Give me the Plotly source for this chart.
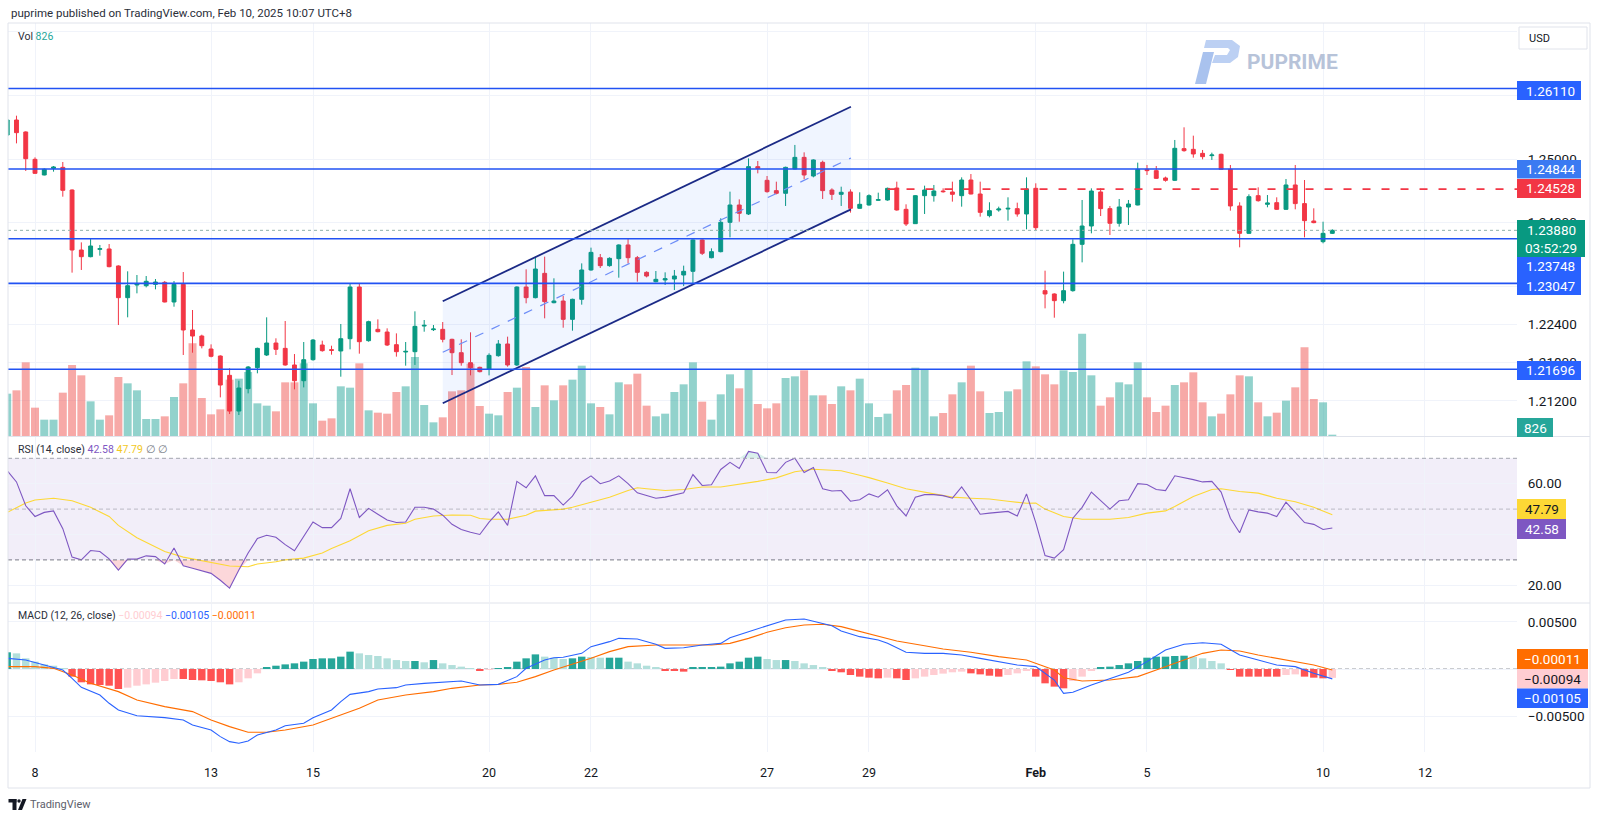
import plotly.graph_objects as go

# ---------------- data ----------------
open_ = [1.25378, 1.25614, 1.25426, 1.24996, 1.24750, 1.24854, 1.24870, 1.24514, 1.23571, 1.23466,
         1.23581, 1.23587, 1.23320, 1.22822, 1.23021, 1.23010, 1.23031, 1.23063, 1.22754, 1.23031,
         1.22314, 1.22219, 1.22015, 1.21905, 1.21601, 1.21040, 1.21392, 1.21722, 1.21921, 1.22109,
         1.22025, 1.21764, 1.21517, 1.21847, 1.22078, 1.22005, 1.21984, 1.22177, 1.22989, 1.22146,
         1.22324, 1.22282, 1.22083, 1.21968, 1.21973, 1.22376, 1.22319, 1.22324, 1.22167, 1.21957,
         1.21800, 1.21727, 1.21695, 1.21910, 1.22094, 1.21764, 1.22989, 1.22822, 1.23204, 1.22743,
         1.22769, 1.22481, 1.22796, 1.23257, 1.23450, 1.23325, 1.23435, 1.23650, 1.23450, 1.23220,
         1.23073, 1.23100, 1.23115, 1.23178, 1.23236, 1.23729, 1.23450, 1.23545, 1.24006, 1.24278,
         1.24137, 1.24881, 1.24666, 1.24504, 1.24462, 1.24844, 1.25027, 1.24734, 1.24949, 1.24514,
         1.24446, 1.24483, 1.24226, 1.24278, 1.24352, 1.24357, 1.24545, 1.24210, 1.23985, 1.24425,
         1.24425, 1.24498, 1.24483, 1.24425, 1.24671, 1.24451, 1.24111, 1.24200, 1.24215, 1.24221,
         1.24137, 1.24540, 1.22932, 1.22880, 1.22775, 1.22932, 1.23660, 1.23948, 1.24483, 1.24221,
         1.23991, 1.24247, 1.24278, 1.24839, 1.24818, 1.24703, 1.24666, 1.25164, 1.25153, 1.25090,
         1.25054, 1.25075, 1.24839, 1.24263, 1.23833, 1.24425, 1.24289, 1.24315, 1.24210, 1.24593,
         1.24300, 1.24027, 1.23702, 1.23833]
high = [1.25625, 1.25682, 1.25436, 1.25027, 1.24854, 1.24891, 1.24954, 1.24524, 1.23691, 1.23754,
        1.23650, 1.23665, 1.23330, 1.23236, 1.23178, 1.23162, 1.23115, 1.23084, 1.23084, 1.23225,
        1.22628, 1.22240, 1.22088, 1.21915, 1.21711, 1.21517, 1.21748, 1.22036, 1.22513, 1.22183,
        1.22455, 1.21936, 1.22125, 1.22172, 1.22146, 1.22067, 1.22408, 1.23047, 1.23052, 1.22460,
        1.22481, 1.22340, 1.22261, 1.22125, 1.22607, 1.22471, 1.22392, 1.22439, 1.22177, 1.22167,
        1.22277, 1.21737, 1.21947, 1.22156, 1.22209, 1.23000, 1.23267, 1.23466, 1.23466, 1.23126,
        1.22848, 1.22806, 1.23361, 1.23608, 1.23508, 1.23456, 1.23660, 1.23754, 1.23477, 1.23236,
        1.23241, 1.23220, 1.23257, 1.23325, 1.23739, 1.23739, 1.23597, 1.24069, 1.24488, 1.24367,
        1.25011, 1.24970, 1.24734, 1.24645, 1.24881, 1.25222, 1.25106, 1.24996, 1.24975, 1.24540,
        1.24566, 1.24524, 1.24478, 1.24446, 1.24472, 1.24551, 1.24645, 1.24289, 1.24435, 1.24582,
        1.24593, 1.24540, 1.24645, 1.24713, 1.24765, 1.24645, 1.24321, 1.24252, 1.24399, 1.24315,
        1.24713, 1.24619, 1.23246, 1.22890, 1.23231, 1.23739, 1.24357, 1.24540, 1.24540, 1.24263,
        1.24373, 1.24357, 1.24944, 1.24907, 1.24891, 1.24724, 1.25300, 1.25499, 1.25368, 1.25143,
        1.25101, 1.25085, 1.24907, 1.24321, 1.24446, 1.24556, 1.24435, 1.24399, 1.24687, 1.24907,
        1.24671, 1.24226, 1.24016, 1.23896]
low = [1.25368, 1.25247, 1.24813, 1.24765, 1.24744, 1.24802, 1.24409, 1.23215, 1.23257, 1.23456,
       1.23482, 1.23299, 1.22392, 1.22513, 1.22890, 1.22984, 1.22953, 1.22748, 1.22680, 1.21921,
       1.21957, 1.22025, 1.21884, 1.21255, 1.20993, 1.20978, 1.21318, 1.21633, 1.21905, 1.21921,
       1.21753, 1.21381, 1.21412, 1.21832, 1.21973, 1.21926, 1.21580, 1.22010, 1.21942, 1.22130,
       1.22277, 1.22062, 1.21895, 1.21753, 1.21764, 1.22287, 1.22298, 1.22120, 1.21606, 1.21753,
       1.21601, 1.21648, 1.21601, 1.21895, 1.21737, 1.21748, 1.22733, 1.22811, 1.22497, 1.22733,
       1.22350, 1.22303, 1.22712, 1.23246, 1.23288, 1.23309, 1.23136, 1.23361, 1.23073, 1.23141,
       1.23063, 1.23021, 1.22942, 1.23005, 1.23031, 1.23492, 1.23440, 1.23534, 1.23770, 1.24016,
       1.24121, 1.24776, 1.24472, 1.24446, 1.24263, 1.24839, 1.24682, 1.24713, 1.24373, 1.24357,
       1.24263, 1.24158, 1.24221, 1.24268, 1.24346, 1.24346, 1.24189, 1.23948, 1.23980, 1.24137,
       1.24331, 1.24472, 1.24331, 1.24252, 1.24446, 1.24095, 1.24084, 1.24173, 1.24032, 1.24095,
       1.23896, 1.23885, 1.22654, 1.22507, 1.22733, 1.22916, 1.23377, 1.23833, 1.24105, 1.23807,
       1.23938, 1.23964, 1.24273, 1.24750, 1.24687, 1.24645, 1.24655, 1.25116, 1.25022, 1.24996,
       1.24986, 1.24828, 1.24189, 1.23613, 1.23822, 1.24331, 1.24242, 1.24200, 1.24200, 1.24210,
       1.23770, 1.23991, 1.23676, 1.23822]
close = [1.25614, 1.25415, 1.25006, 1.24776, 1.24839, 1.24875, 1.24509, 1.23571, 1.23466, 1.23634,
         1.23592, 1.23309, 1.22822, 1.23010, 1.23037, 1.23079, 1.23068, 1.22754, 1.23031, 1.22314,
         1.22219, 1.22067, 1.21900, 1.21449, 1.21040, 1.21402, 1.21732, 1.22025, 1.22109, 1.22010,
         1.21764, 1.21517, 1.21847, 1.22156, 1.21989, 1.21994, 1.22177, 1.22989, 1.22130, 1.22445,
         1.22287, 1.22078, 1.21973, 1.21978, 1.22371, 1.22387, 1.22329, 1.22167, 1.21957, 1.21800,
         1.21722, 1.21659, 1.21915, 1.22094, 1.21764, 1.22989, 1.22822, 1.23272, 1.22759, 1.22769,
         1.22481, 1.22796, 1.23257, 1.23534, 1.23325, 1.23440, 1.23650, 1.23450, 1.23220, 1.23162,
         1.23110, 1.23120, 1.23162, 1.23236, 1.23729, 1.23519, 1.23545, 1.24006, 1.24278, 1.24148,
         1.24881, 1.24854, 1.24488, 1.24462, 1.24870, 1.25027, 1.24750, 1.24986, 1.24504, 1.24446,
         1.24478, 1.24226, 1.24289, 1.24425, 1.24362, 1.24540, 1.24200, 1.23980, 1.24425, 1.24514,
         1.24498, 1.24488, 1.24446, 1.24671, 1.24451, 1.24163, 1.24189, 1.24215, 1.24226, 1.24137,
         1.24530, 1.23922, 1.22880, 1.22775, 1.22932, 1.23660, 1.23948, 1.24498, 1.24221, 1.23991,
         1.24247, 1.24294, 1.24839, 1.24818, 1.24697, 1.24666, 1.25169, 1.25132, 1.25080, 1.25038,
         1.25064, 1.24839, 1.24263, 1.23833, 1.24409, 1.24346, 1.24310, 1.24210, 1.24593, 1.24300,
         1.24032, 1.24001, 1.23833, 1.23880]
volume = [26670, 28770, 46410, 17850, 10290, 10290, 27300, 44730, 38220, 21840,
          10290, 13020, 37170, 33180, 28770, 10710, 10710, 12390, 24570, 33180,
          58380, 23940, 13650, 16800, 35490, 36120, 40320, 20580, 19110, 15540,
          33810, 33810, 45780, 20580, 9660, 11130, 31290, 30450, 45780, 16170,
          14700, 14070, 27720, 31290, 49770, 19530, 8610, 11760, 28140, 28770,
          45570, 18900, 14070, 13020, 27720, 30450, 43470, 18270, 31920, 22470,
          31920, 35490, 44310, 20580, 18270, 13650, 33810, 32550, 39270, 19110,
          12390, 14070, 27720, 32550, 46410, 21630, 10290, 26250, 38850, 30030,
          41790, 20160, 17430, 20580, 36540, 37590, 41370, 25620, 25620, 20160,
          31290, 28770, 36120, 20580, 11970, 14070, 28770, 32130, 43050, 41790,
          12390, 14490, 26250, 33810, 44310, 28140, 14490, 15120, 28140, 29400,
          47040, 43890, 38850, 32550, 41370, 40320, 64470, 38220, 19110, 24360,
          33810, 32550, 46410, 24360, 15120, 19110, 32130, 33810, 40110, 21210,
          12390, 14070, 26250, 38220, 37590, 21210, 12390, 14700, 22260, 30660,
          55860, 23310, 21210, 826]
rsi = [65.1, 60.7, 51.3, 47.1, 48.7, 49.3, 42.3, 31.1, 30.0, 33.7,
       33.3, 30.4, 26.0, 30.3, 30.3, 31.6, 31.3, 28.4, 34.7, 27.7,
       26.7, 25.7, 24.7, 22.0, 18.9, 26.0, 32.7, 38.4, 39.7, 38.9,
       36.0, 33.6, 39.3, 44.9, 42.7, 42.7, 46.3, 58.0, 46.7, 50.3,
       48.0, 45.7, 44.7, 44.9, 50.7, 50.7, 50.0, 47.6, 44.0, 42.0,
       40.9, 40.0, 44.9, 48.9, 43.6, 60.9, 58.4, 63.1, 55.3, 55.3,
       51.6, 55.1, 60.7, 63.1, 60.0, 61.1, 63.1, 60.0, 56.4, 55.3,
       54.3, 54.7, 55.6, 56.4, 63.6, 59.3, 59.6, 65.6, 68.4, 66.0,
       72.7, 72.0, 64.4, 64.3, 68.4, 70.0, 64.4, 66.4, 58.0, 57.1,
       57.3, 53.1, 53.7, 56.0, 54.7, 57.6, 51.3, 47.3, 54.7, 55.7,
       55.7, 55.3, 54.3, 58.7, 53.6, 48.0, 48.4, 48.7, 49.1, 47.3,
       56.0, 44.7, 31.7, 30.7, 34.0, 46.4, 50.7, 56.7, 53.3, 50.0,
       53.3, 53.7, 60.0, 59.7, 57.7, 57.3, 63.1, 62.4, 61.6, 60.7,
       60.9, 56.7, 46.4, 40.7, 49.7, 48.9, 48.4, 47.1, 52.7, 48.7,
       44.7, 44.0, 42.0, 42.58]
rsi_ma_idx = [0, 2, 3, 5, 7, 9, 11, 12, 14, 16, 17, 19, 21, 22, 24, 26, 27, 29, 30, 32,
              34, 35, 37, 39, 41, 43, 44, 46, 48, 50, 51, 52, 54, 56, 57, 60, 61, 63, 65, 67,
              68, 69, 71, 73, 75, 77, 79, 81, 83, 85, 87, 90, 92, 93, 95, 97, 100, 102, 104, 106,
              108, 110, 111, 112, 114, 116, 119, 121, 123, 125, 126, 128, 130, 131, 133, 135, 137, 139, 141, 143]
rsi_ma = [48.7, 52.4, 53.6, 54.3, 53.3, 50.7, 47.1, 43.6, 38.7, 35.3, 33.3, 31.1, 29.7, 29.1, 27.6, 27.3, 28.4, 29.3, 30.0, 30.7,
          32.7, 34.5, 37.5, 41.5, 43.6, 44.4, 46.0, 47.3, 47.7, 47.6, 46.3, 46.0, 46.0, 47.6, 49.2, 50.0, 50.7, 52.7, 54.7, 57.3,
          58.4, 58.0, 57.3, 57.7, 58.7, 58.7, 59.8, 60.9, 62.3, 64.7, 65.7, 65.1, 63.3, 62.4, 60.3, 58.0, 56.0, 54.7, 54.3, 54.0,
          53.1, 52.3, 52.4, 50.0, 47.1, 46.0, 46.0, 46.7, 48.4, 49.3, 51.0, 55.0, 57.7, 58.0, 56.9, 56.3, 54.3, 52.9, 50.7, 47.79]
macd_idx = [0, 2, 4, 6, 7, 8, 10, 11, 12, 14, 17, 19, 20, 22, 23, 24, 25, 26, 27, 29,
            30, 32, 33, 35, 36, 37, 39, 40, 42, 43, 45, 47, 49, 51, 53, 55, 56, 58, 59, 60,
            62, 63, 65, 66, 68, 70, 71, 73, 75, 77, 78, 80, 82, 84, 86, 88, 89, 90, 92, 94,
            95, 97, 99, 101, 103, 105, 107, 109, 111, 113, 114, 115, 117, 119, 121, 123, 125, 127, 129, 131,
            133, 135, 137, 139, 141, 143]
macd = [0.00113, 0.00095, 0.00042, -0.00011, -0.00099, -0.00194, -0.00276, -0.00364, -0.00435, -0.00495,
        -0.00516, -0.00541, -0.00594, -0.00647, -0.00717, -0.00770, -0.00788, -0.00763, -0.00700, -0.00647,
        -0.00601, -0.00576, -0.00516, -0.00435, -0.00346, -0.00269, -0.00240, -0.00212, -0.00198, -0.00170,
        -0.00152, -0.00141, -0.00127, -0.00170, -0.00163, -0.00081, 0.00007, 0.00095, 0.00120, 0.00124,
        0.00166, 0.00237, 0.00290, 0.00325, 0.00318, 0.00262, 0.00219, 0.00226, 0.00254, 0.00272,
        0.00332, 0.00396, 0.00459, 0.00520, 0.00530, 0.00484, 0.00459, 0.00403, 0.00343, 0.00307,
        0.00272, 0.00177, 0.00166, 0.00166, 0.00148, 0.00113, 0.00078, 0.00042, 0.00025, -0.00117,
        -0.00258, -0.00247, -0.00170, -0.00099, -0.00035, 0.00078, 0.00201, 0.00262, 0.00279, 0.00262,
        0.00148, 0.00095, 0.00042, 0.00025, -0.00046, -0.00105]
signal_idx = [0, 3, 5, 7, 9, 12, 14, 17, 20, 22, 24, 26, 28, 30, 33, 35, 38, 40, 43, 46,
              48, 51, 53, 55, 57, 59, 61, 63, 65, 67, 70, 72, 74, 76, 78, 80, 82, 84, 86, 88,
              90, 92, 94, 96, 99, 101, 104, 107, 110, 111, 113, 114, 116, 119, 122, 124, 127, 129, 131, 133,
              135, 137, 139, 141, 143]
signal = [0.00025, 0.00025, 0.00007, -0.00064, -0.00152, -0.00240, -0.00329, -0.00399, -0.00452, -0.00541,
          -0.00611, -0.00671, -0.00671, -0.00647, -0.00594, -0.00523, -0.00417, -0.00329, -0.00276, -0.00240,
          -0.00205, -0.00170, -0.00163, -0.00141, -0.00081, -0.00011, 0.00049, 0.00113, 0.00184, 0.00237,
          0.00254, 0.00254, 0.00247, 0.00254, 0.00272, 0.00325, 0.00389, 0.00438, 0.00466, 0.00474,
          0.00449, 0.00396, 0.00343, 0.00297, 0.00247, 0.00212, 0.00177, 0.00131, 0.00095, 0.00060,
          -0.00011, -0.00092, -0.00127, -0.00117, -0.00081, -0.00011, 0.00095, 0.00166, 0.00201, 0.00191,
          0.00148, 0.00113, 0.00078, 0.00042, -0.00011]
hist = [0.00177, 0.00166, 0.00113, 0.00078, 0.00049, 0.00035, 0.00007, -0.00081, -0.00141, -0.00163,
        -0.00170, -0.00177, -0.00212, -0.00198, -0.00177, -0.00163, -0.00145, -0.00127, -0.00106, -0.00106,
        -0.00117, -0.00120, -0.00127, -0.00141, -0.00163, -0.00141, -0.00099, -0.00046, 0.00014, 0.00035,
        0.00049, 0.00060, 0.00078, 0.00106, 0.00113, 0.00113, 0.00131, 0.00184, 0.00166, 0.00148,
        0.00138, 0.00113, 0.00095, 0.00085, 0.00085, 0.00071, 0.00095, 0.00060, 0.00042, 0.00025,
        0.00007, -0.00021, -0.00004, 0.00007, 0.00014, 0.00078, 0.00113, 0.00155, 0.00131, 0.00120,
        0.00106, 0.00113, 0.00131, 0.00127, 0.00120, 0.00120, 0.00120, 0.00078, 0.00060, 0.00035,
        0.00014, -0.00011, -0.00014, -0.00028, 0.00014, 0.00014, 0.00014, 0.00025, 0.00060, 0.00078,
        0.00120, 0.00131, 0.00106, 0.00095, 0.00095, 0.00085, 0.00060, 0.00042, 0.00014, -0.00021,
        -0.00035, -0.00064, -0.00081, -0.00092, -0.00099, -0.00092, -0.00099, -0.00117, -0.00099, -0.00081,
        -0.00064, -0.00049, -0.00035, -0.00028, -0.00046, -0.00057, -0.00071, -0.00081, -0.00064, -0.00046,
        -0.00021, -0.00081, -0.00152, -0.00187, -0.00205, -0.00127, -0.00081, -0.00011, 0.00014, 0.00025,
        0.00042, 0.00060, 0.00085, 0.00120, 0.00131, 0.00131, 0.00138, 0.00141, 0.00131, 0.00113,
        0.00085, 0.00060, -0.00004, -0.00081, -0.00081, -0.00081, -0.00081, -0.00081, -0.00064, -0.00057,
        -0.00081, -0.00092, -0.00099, -0.00094]

tick_idx = [3, 22, 33, 52, 63, 82, 93, 111, 123, 142, 153]
tick_text = ["8", "13", "15", "20", "22", "27", "29", "Feb", "5", "10", "12"]
blue_levels = [1.26110, 1.24844, 1.23748, 1.23047, 1.21696]
red_level = 1.24528
red_level_from = 95
last_price = 1.23880
countdown = "03:52:29"
channel_x = [47.0, 91.05]
channel_upper = [1.22765, 1.25823]
channel_lower = [1.21162, 1.24210]
price_ticks = [1.212, 1.218, 1.224, 1.230, 1.240, 1.250, 1.260, 1.270]
price_tick_shown = [True, True, True, False, True, True, True, False]  # labels fully covered by boxes hidden
rsi_ticks = [20, 40, 60]
macd_ticks = [-0.005, 0.0, 0.005]
header = "puprime published on TradingView.com, Feb 10, 2025 10:07 UTC+8"

# ---------------- layout constants (pixels) ----------------
W, H = 1600, 819
PL, PR = 8, 1517
MAIN_T, MAIN_B = 23, 436
RSI_T, RSI_B = 437, 602
MACD_T, MACD_B = 604, 752
FRAME_R, FRAME_B = 1590, 788
X_LO, X_HI = 0.086, 162.93
PRICE_RANGE = [1.206479, 1.271385]
VOL_RANGE = [0, 260190]
RSI_RANGE = [13.425, 78.386]
MACD_RANGE = [-0.008802, 0.006893]

UP, DN = "#089981", "#f23645"
GRID = "#f0f3fa"
BORDER = "#e0e3eb"
TXT = "#131722"
FONT = "Roboto, Open Sans, sans-serif"


def fx(px):
    return px / W


def fy(py):
    return 1 - py / H


def mfmt(v, d=5):
    return f"{v:.{d}f}".replace("-", "\u2212")


N = len(close)
idx = list(range(N))

vol_colors = ["rgba(38,166,154,0.5)" if c >= o else "rgba(239,83,80,0.5)" for o, c in zip(open_, close)]
hist_colors = []
for k, hv in enumerate(hist):
    prev = hist[k - 1] if k > 0 else hv
    if hv >= 0:
        hist_colors.append("#26a69a" if hv >= prev else "#b2dfdb")
    else:
        hist_colors.append("#ff5252" if hv <= prev else "#ffcdd2")

fig = go.Figure()

# volume (base axis y), candles on overlay y2
fig.add_trace(go.Bar(x=idx, y=volume, xaxis="x", yaxis="y", width=0.86,
                     marker=dict(color=vol_colors, line=dict(width=0)),
                     hoverinfo="skip", showlegend=False))
fig.add_trace(go.Candlestick(x=idx, open=open_, high=high, low=low, close=close,
                             xaxis="x", yaxis="y2", whiskerwidth=0,
                             increasing=dict(line=dict(color=UP, width=1), fillcolor=UP),
                             decreasing=dict(line=dict(color=DN, width=1), fillcolor=DN),
                             hoverinfo="skip", showlegend=False))
# channel drawing
fig.add_trace(go.Scatter(x=[channel_x[0], channel_x[1], channel_x[1], channel_x[0]],
                         y=[channel_upper[0], channel_upper[1], channel_lower[1], channel_lower[0]],
                         fill="toself", fillcolor="rgba(41,120,255,0.07)", mode="lines",
                         line=dict(width=0), xaxis="x", yaxis="y2", hoverinfo="skip", showlegend=False))
channel_mid = [(u + l) / 2 for u, l in zip(channel_upper, channel_lower)]
fig.add_trace(go.Scatter(x=channel_x, y=channel_mid, mode="lines",
                         line=dict(color="#6d8df7", width=1.2, dash="dash"),
                         xaxis="x", yaxis="y2", hoverinfo="skip", showlegend=False))
for ys in (channel_upper, channel_lower):
    fig.add_trace(go.Scatter(x=channel_x, y=ys, mode="lines",
                             line=dict(color="#1b2a86", width=1.8),
                             xaxis="x", yaxis="y2", hoverinfo="skip", showlegend=False))

# RSI
rsi_lo = [min(v, 30) for v in rsi]
rsi_hi = [max(v, 70) for v in rsi]
fig.add_trace(go.Scatter(x=idx, y=[30] * N, mode="lines", line=dict(width=0), xaxis="x2", yaxis="y3",
                         hoverinfo="skip", showlegend=False))
fig.add_trace(go.Scatter(x=idx, y=rsi_lo, mode="lines", line=dict(width=0), fill="tonexty",
                         fillcolor="rgba(242,54,69,0.20)", xaxis="x2", yaxis="y3",
                         hoverinfo="skip", showlegend=False))
fig.add_trace(go.Scatter(x=idx, y=[70] * N, mode="lines", line=dict(width=0), xaxis="x2", yaxis="y3",
                         hoverinfo="skip", showlegend=False))
fig.add_trace(go.Scatter(x=idx, y=rsi_hi, mode="lines", line=dict(width=0), fill="tonexty",
                         fillcolor="rgba(8,153,129,0.15)", xaxis="x2", yaxis="y3",
                         hoverinfo="skip", showlegend=False))
fig.add_trace(go.Scatter(x=rsi_ma_idx, y=rsi_ma, mode="lines", line=dict(color="#fdd835", width=1.1),
                         xaxis="x2", yaxis="y3", hoverinfo="skip", showlegend=False))
fig.add_trace(go.Scatter(x=idx, y=rsi, mode="lines", line=dict(color="#7e57c2", width=1.1),
                         xaxis="x2", yaxis="y3", hoverinfo="skip", showlegend=False))

# MACD
fig.add_trace(go.Bar(x=idx, y=hist, width=0.8, marker=dict(color=hist_colors, line=dict(width=0)),
                     xaxis="x3", yaxis="y4", hoverinfo="skip", showlegend=False))
fig.add_trace(go.Scatter(x=signal_idx, y=signal, mode="lines", line=dict(color="#ff6d00", width=1.1),
                         xaxis="x3", yaxis="y4", hoverinfo="skip", showlegend=False))
fig.add_trace(go.Scatter(x=macd_idx, y=macd, mode="lines", line=dict(color="#2962ff", width=1.1),
                         xaxis="x3", yaxis="y4", hoverinfo="skip", showlegend=False))

shapes = []
annotations = []

# level lines
for lv in blue_levels:
    shapes.append(dict(type="line", xref="x domain", yref="y2", x0=0, x1=1, y0=lv, y1=lv,
                       line=dict(color="#2152f3", width=1.6), layer="above"))
shapes.append(dict(type="line", xref="x", yref="y2", x0=red_level_from, x1=X_HI, y0=red_level, y1=red_level,
                   line=dict(color=DN, width=1.6, dash="8px,11px"), layer="above"))
shapes.append(dict(type="line", xref="x domain", yref="y2", x0=0, x1=1, y0=last_price, y1=last_price,
                   line=dict(color="#8fb0a9", width=1, dash="dot"), layer="above"))

# RSI band and levels
shapes.append(dict(type="rect", xref="x2 domain", yref="y3", x0=0, x1=1, y0=30, y1=70,
                   fillcolor="rgba(126,87,194,0.1)", line=dict(width=0), layer="below"))
for lv, col in ((70, "#a3a6af"), (50, "rgba(120,123,134,0.45)"), (30, "#787b86")):
    shapes.append(dict(type="line", xref="x2 domain", yref="y3", x0=0, x1=1, y0=lv, y1=lv,
                       line=dict(color=col, width=1, dash="4px,3px"), layer="above"))
# MACD zero line
shapes.append(dict(type="line", xref="x3 domain", yref="y4", x0=0, x1=1, y0=0, y1=0,
                   line=dict(color="#9598a1", width=1, dash="4px,3px"), layer="below"))

# frame and separators
for yy in (436.5, 603):
    shapes.append(dict(type="line", xref="paper", yref="paper", x0=fx(PL), x1=fx(FRAME_R),
                       y0=fy(yy), y1=fy(yy), line=dict(color=BORDER, width=1), layer="above"))
shapes.append(dict(type="rect", xref="paper", yref="paper", x0=fx(PL), x1=fx(FRAME_R),
                   y0=fy(FRAME_B), y1=fy(MAIN_T), line=dict(color=BORDER, width=1), layer="above"))


def box(x0, y0, x1, y1, fill, line=None):
    shapes.append(dict(type="rect", xref="paper", yref="paper", x0=fx(x0), x1=fx(x1),
                       y0=fy(y1), y1=fy(y0), fillcolor=fill,
                       line=dict(color=line or fill, width=1 if line else 0), layer="above"))


def text(x, y, s, color=TXT, size=13.5, anchor="center", weight="normal"):
    annotations.append(dict(xref="paper", yref="paper", x=fx(x), y=fy(y), text=s, showarrow=False,
                            xanchor=anchor, yanchor="middle",
                            font=dict(family=FONT, size=size, color=color, weight=weight)))


# price scale labels
box(1519, 27, 1587, 49, "#ffffff", BORDER)
text(1527, 38.5, "USD", TXT, 11, "left")
price_boxes = [  # (value, y0, y1, color)
    (blue_levels[0], 81, 100, "#2962ff"),
    (blue_levels[1], 160, 178.5, "#3a7af2"),
    (red_level, 179, 198, DN),
    (blue_levels[2], 257, 276, "#2962ff"),
    (blue_levels[3], 276, 295, "#2962ff"),
    (blue_levels[4], 361, 380, "#2962ff"),
]
for v, y0, y1, col in price_boxes:
    box(PR, y0, 1581, y1, col)
    text(1550, (y0 + y1) / 2, f"{v:.5f}", "#ffffff")
box(PR, 220, 1585, 257, UP)
text(1551, 229.5, f"{last_price:.5f}", "#ffffff")
text(1551, 247.5, countdown, "#ffffff")
box(PR, 418, 1553, 437, "#26a69a")
text(1535, 427.5, f"{volume[-1]}", "#ffffff")

# RSI labels
box(PR, 499, 1566, 519, "#fdd835")
text(1542, 509, f"{rsi_ma[-1]:.2f}", TXT)
box(PR, 519, 1566, 539, "#7e57c2")
text(1542, 529, f"{rsi[-1]:.2f}", "#ffffff")

# MACD labels
box(PR, 649, 1588, 669, "#ff6d00")
text(1552, 659, mfmt(signal[-1]), "#ffffff")
box(PR, 669, 1588, 688.5, "#ffcdd2")
text(1552, 678.5, mfmt(hist[-1]), TXT)
box(PR, 688.5, 1588, 708, "#2962ff")
text(1552, 698, mfmt(macd[-1]), "#ffffff")

# legends / titles
text(9, 13, header, "#2a2e39", 11.5, "left")
text(16, 37, f'Vol <span style="color:#26a69a">{volume[-1]}</span>', "#2a2e39", 10.5, "left")
text(16, 449, (f'RSI (14, close) <span style="color:#7e57c2">{rsi[-1]:.2f}</span> '
               f'<span style="color:#f2c81d">{rsi_ma[-1]:.2f}</span> '
               f'<span style="color:#787b86">\u2205 \u2205</span>'), "#2a2e39", 10.5, "left")
text(16, 615, (f'MACD (12, 26, close) <span style="color:#ffcdd2">{mfmt(hist[-1])}</span> '
               f'<span style="color:#2962ff">{mfmt(macd[-1])}</span> '
               f'<span style="color:#ff6d00">{mfmt(signal[-1])}</span>'), "#2a2e39", 10.5, "left")


# PUPRIME watermark
def path(pts):
    return "M " + " L ".join(f"{fx(a):.6f},{fy(b):.6f}" for a, b in pts) + " Z"


shapes.append(dict(type="path", xref="paper", yref="paper", layer="above",
                   path=path([(1195, 84), (1206, 84), (1214, 52), (1203, 52)]),
                   fillcolor="#a9c2ee", line=dict(width=0)))
shapes.append(dict(type="path", xref="paper", yref="paper", layer="above",
                   path=path([(1206, 40), (1232, 40), (1240, 46), (1238, 57), (1230, 63), (1212, 63),
                              (1215, 55), (1227, 55), (1230, 50), (1228, 48), (1204, 48)]),
                   fillcolor="#bcd0f3", line=dict(width=0)))
text(1245, 62, "PUPRIME", "#b7c3d9", 21, "left", "bold")

# TradingView logo
shapes.append(dict(type="rect", xref="paper", yref="paper", x0=fx(8.5), x1=fx(16.5), y0=fy(802.5), y1=fy(799),
                   fillcolor=TXT, line=dict(width=0), layer="above"))
shapes.append(dict(type="rect", xref="paper", yref="paper", x0=fx(12.5), x1=fx(16.5), y0=fy(810), y1=fy(799),
                   fillcolor=TXT, line=dict(width=0), layer="above"))
shapes.append(dict(type="circle", xref="paper", yref="paper", x0=fx(17.3), x1=fx(20.7), y0=fy(802.7), y1=fy(799.3),
                   fillcolor=TXT, line=dict(width=0), layer="above"))
shapes.append(dict(type="path", xref="paper", yref="paper", layer="above",
                   path=path([(18, 810), (22, 810), (26.5, 799), (22.5, 799)]),
                   fillcolor=TXT, line=dict(width=0)))
text(28, 804.5, "TradingView", "#5d606b", 11, "left")

xcommon = dict(domain=[fx(PL), fx(PR)], range=[X_LO, X_HI], showgrid=True, gridcolor=GRID, gridwidth=1,
               tickvals=tick_idx, zeroline=False, showline=False, fixedrange=True)
ycommon = dict(showgrid=True, gridcolor=GRID, gridwidth=1, zeroline=False, showline=False, fixedrange=True,
               side="right", ticks="outside", ticklen=7, tickcolor="rgba(0,0,0,0)",
               tickfont=dict(family=FONT, size=13.5, color=TXT))

fig.update_layout(
    width=W, height=H, margin=dict(l=0, r=0, t=0, b=0),
    paper_bgcolor="#ffffff", plot_bgcolor="rgba(0,0,0,0)",
    showlegend=False, hovermode=False, dragmode=False, boxgap=0.4,
    font=dict(family=FONT, color=TXT),
    xaxis=dict(**xcommon, anchor="y", showticklabels=False, rangeslider=dict(visible=False)),
    xaxis2=dict(**xcommon, anchor="y3", matches="x", showticklabels=False),
    xaxis3=dict(**xcommon, anchor="y4", matches="x", showticklabels=True,
                ticktext=[f"<b>{t}</b>" if not t.isdigit() else t for t in tick_text],
                ticks="outside", ticklen=9, tickcolor="rgba(0,0,0,0)",
                tickfont=dict(family=FONT, size=12.5, color=TXT)),
    yaxis=dict(domain=[fy(MAIN_B), fy(MAIN_T)], range=VOL_RANGE, visible=False, fixedrange=True),
    yaxis2=dict(**ycommon, overlaying="y", anchor="x", range=PRICE_RANGE,
                tickvals=price_ticks,
                ticktext=[f"{v:.5f}" if s else "" for v, s in zip(price_ticks, price_tick_shown)]),
    yaxis3=dict(**ycommon, domain=[fy(RSI_B), fy(RSI_T)], anchor="x2", range=RSI_RANGE,
                tickvals=rsi_ticks, ticktext=["20.00", "", "60.00"]),
    yaxis4=dict(**ycommon, domain=[fy(MACD_B), fy(MACD_T)], anchor="x3", range=MACD_RANGE,
                tickvals=macd_ticks, ticktext=[mfmt(macd_ticks[0]), "", mfmt(macd_ticks[2])]),
    shapes=shapes, annotations=annotations,
)

fig.write_html("out.html", config={"displayModeBar": False},
               post_script="document.body.style.margin='0';document.body.style.overflow='hidden';")
